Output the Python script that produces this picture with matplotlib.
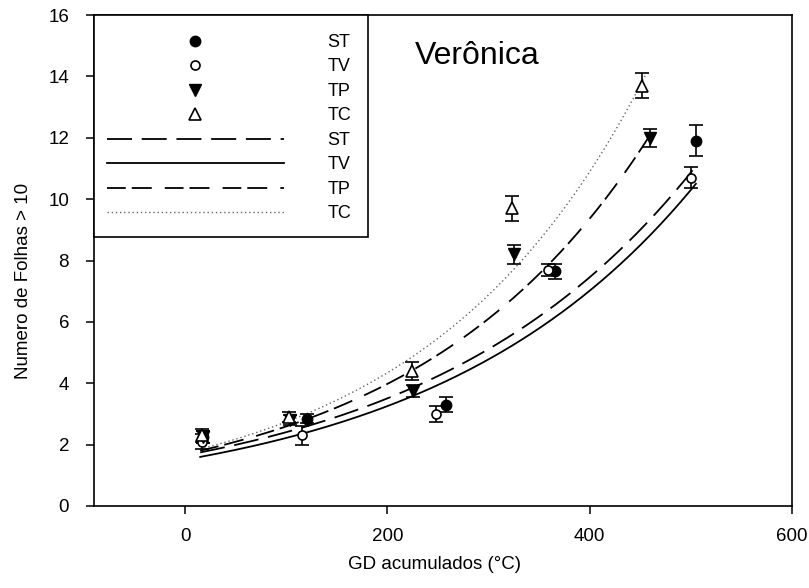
import numpy as np
import matplotlib
matplotlib.use("Agg")
import matplotlib.pyplot as plt
from matplotlib.lines import Line2D
from matplotlib.patches import Rectangle

plt.rcParams['font.family'] = ['Liberation Sans', 'DejaVu Sans']
plt.rcParams['lines.scale_dashes'] = False

# ---- data ----
series = ["ST", "TV", "TP", "TC"]

st_x = [18, 121, 258, 366, 505]
st_y = [2.25, 2.85, 3.3, 7.65, 11.9]
st_err = [0.2, 0.15, 0.25, 0.25, 0.5]

tv_x = [17, 116, 248, 359, 500]
tv_y = [2.1, 2.3, 3.0, 7.7, 10.7]
tv_err = [0.25, 0.3, 0.25, 0.2, 0.35]

tp_x = [18, 104, 225, 325, 460]
tp_y = [2.25, 2.8, 3.75, 8.2, 12.0]
tp_err = [0.2, 0.15, 0.2, 0.3, 0.3]

tc_x = [17, 103, 224, 323, 452]
tc_y = [2.3, 2.9, 4.4, 9.7, 13.7]
tc_err = [0.2, 0.15, 0.3, 0.4, 0.4]

# exponential regression curves y = a*exp(b*x), parameters
fit_a = [1.65, 1.51, 1.69, 1.73]
fit_b = [0.00377, 0.00384, 0.00428, 0.00460]
fit_x0 = [15, 15, 15, 15]
fit_x1 = [505, 505, 460, 455]

x_ticks = [0, 200, 400, 600]
y_ticks = [0, 2, 4, 6, 8, 10, 12, 14, 16]

# ---- figure ----
fig = plt.figure(figsize=(8.09, 5.88), dpi=100)
ax = fig.add_axes([94/809, 1-506/588, (792-94)/809, (506-15)/588])

marker_styles = [
    dict(marker='o', mfc='black', mec='black', ms=7.5),
    dict(marker='o', mfc='white', mec='black', ms=6.5, mew=1.2),
    dict(marker='v', mfc='black', mec='black', ms=8),
    dict(marker='^', mfc='white', mec='black', ms=8, mew=1.2),
]
line_styles = [
    dict(ls=(0, (18, 7)), lw=1.3),
    dict(ls='-', lw=1.3),
    dict(ls=(0, (13.5, 4.3, 14.4, 9.4)), lw=1.3),
    dict(ls=(0, (1, 2)), lw=1.0, color='#666666'),
]

data = [(st_x, st_y, st_err), (tv_x, tv_y, tv_err),
        (tp_x, tp_y, tp_err), (tc_x, tc_y, tc_err)]

for i, (xs, ys, es) in enumerate(data):
    xx = np.linspace(fit_x0[i], fit_x1[i], 200)
    yy = fit_a[i] * np.exp(fit_b[i] * xx)
    st = dict(color='black')
    st.update(line_styles[i])
    ax.plot(xx, yy, **st, zorder=2)

for i, (xs, ys, es) in enumerate(data):
    ax.errorbar(xs, ys, yerr=es, fmt='none', ecolor='black', elinewidth=1.2,
                capsize=5, capthick=1.2, zorder=3)
    ax.plot(xs, ys, ls='none', **marker_styles[i], zorder=4)

ax.set_xlim(-90, 600)
ax.set_ylim(0, 16)
ax.set_xticks(x_ticks)
ax.set_yticks(y_ticks)
ax.tick_params(direction='out', length=6, width=1.1, labelsize=13.5)
ax.tick_params(axis='x', pad=10)
ax.tick_params(axis='y', pad=12)
ax.tick_params(top=False, right=False)
for sp in ax.spines.values():
    sp.set_linewidth(1.2)

ax.set_xlabel("GD acumulados (°C)", fontsize=13.5)
ax.set_ylabel("Numero de Folhas > 10", fontsize=13.5)
ax.xaxis.set_label_coords(0.4885, -0.102)
ax.yaxis.set_label_coords(-0.089, 0.458)

ax.text(0.46, 0.9165, "Verônica", transform=ax.transAxes, fontsize=23,
        ha='left', va='center')

# legend box
box = Rectangle((0, 1 - (237-15)/491), (368-94)/698, (237-15)/491,
                transform=ax.transAxes, facecolor='white', edgecolor='black',
                linewidth=1.2, zorder=5, clip_on=False)
ax.add_patch(box)

handles = []
for i in range(4):
    handles.append(Line2D([], [], ls='none', **marker_styles[i]))
for i in range(4):
    st = dict(color='black')
    st.update(line_styles[i])
    handles.append(Line2D([], [], **st))
labels = series + series
leg = ax.legend(handles, labels, loc='upper left',
                bbox_to_anchor=((107-94)/698, 1-(34-15)/491),
                borderaxespad=0, fontsize=13, frameon=False,
                handlelength=9.8, handletextpad=2.4, labelspacing=0.415,
                borderpad=0, numpoints=1)
leg.set_zorder(6)

fig.savefig("out.png", dpi=100)
